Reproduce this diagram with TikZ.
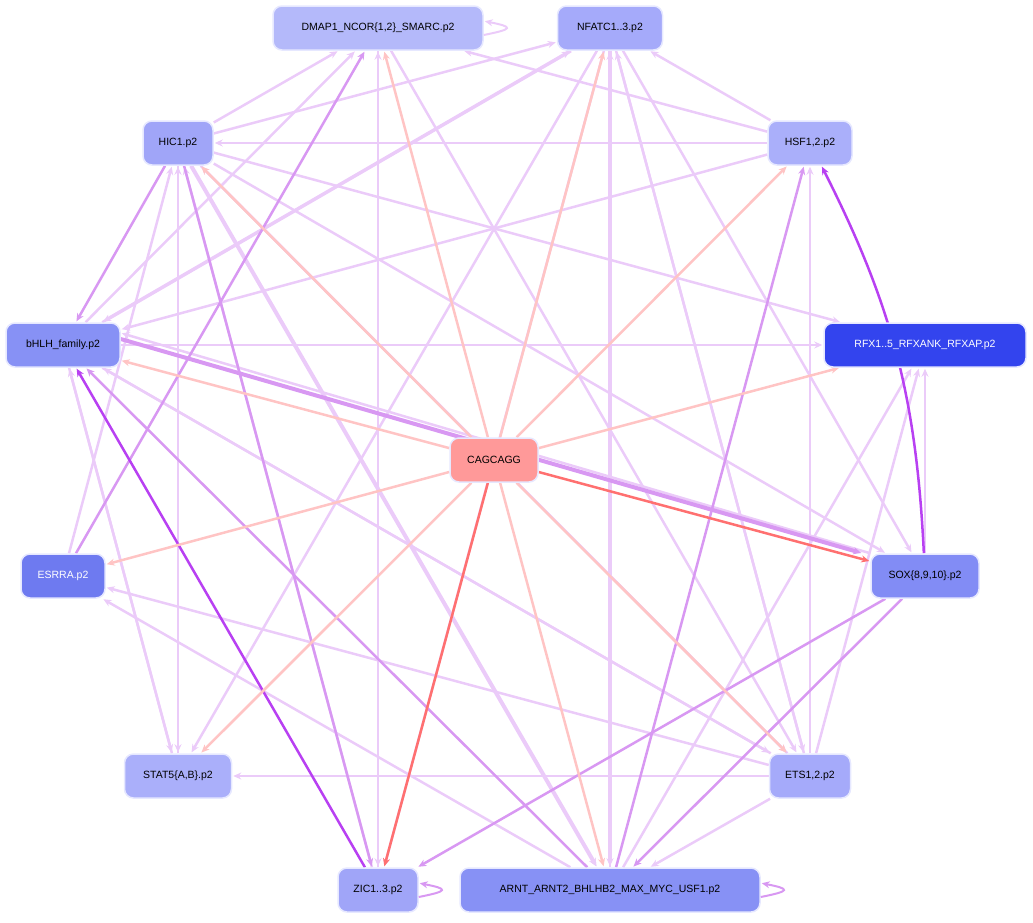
\documentclass[tikz,border=0pt]{standalone}
\usepackage{fontspec}
\setmainfont{Liberation Sans}
\usetikzlibrary{arrows.meta}
\pgfdeclarelayer{bg}
\pgfsetlayers{bg,main}
\begin{document}
\begin{tikzpicture}[x=1pt,y=-1pt,
 nd/.style={draw={rgb,255:red,230;green,232;blue,255},line width=1.5pt,rounded corners=9pt,minimum height=44pt,inner xsep=8pt,font=\fontsize{10.5}{12}\selectfont},
 e/.style={line width=2.5pt,-{Stealth[length=8pt,width=7pt]},shorten >=1pt},
 lp/.style={e,draw=lpc},
 mp/.style={e,draw=mpc},
 sp/.style={e,draw=spc},
 sa/.style={e,draw=sac},
 rd/.style={e,draw=rdc}]
\definecolor{lpc}{HTML}{EBCBF9}
\definecolor{mpc}{HTML}{D898F2}
\definecolor{spc}{HTML}{B840F2}
\definecolor{sac}{HTML}{FFC4C4}
\definecolor{rdc}{HTML}{FF7070}
\useasboundingbox (0,0) rectangle (1033,922);
\node[nd,fill={rgb,255:red,180;green,185;blue,250},minimum width=210pt] (dm) at (378,28) {DMAP1\_NCOR\{1,2\}\_SMARC.p2};
\node[nd,fill={rgb,255:red,165;green,170;blue,250},minimum width=105pt] (nf) at (610,28) {NFATC1..3.p2};
\node[nd,fill={rgb,255:red,160;green,165;blue,248},minimum width=70pt] (hi) at (178,143) {HIC1.p2};
\node[nd,fill={rgb,255:red,170;green,175;blue,250},minimum width=84pt] (hs) at (810,143) {HSF1,2.p2};
\node[nd,fill={rgb,255:red,135;green,145;blue,245},minimum width=114pt] (bh) at (63,345) {bHLH\_family.p2};
\node[nd,fill={rgb,255:red,51;green,68;blue,238},text=white,minimum width=202pt] (rf) at (925,345) {RFX1..5\_RFXANK\_RFXAP.p2};
\node[nd,fill={rgb,255:red,255;green,153;blue,153},minimum width=88pt] (ca) at (494,460) {CAGCAGG};
\node[nd,fill={rgb,255:red,110;green,122;blue,240},text=white,minimum width=84pt] (es) at (63,576) {ESRRA.p2};
\node[nd,fill={rgb,255:red,130;green,140;blue,245},minimum width=108pt] (so) at (925,576) {SOX\{8,9,10\}.p2};
\node[nd,fill={rgb,255:red,170;green,175;blue,250},minimum width=107pt] (st) at (178,776) {STAT5\{A,B\}.p2};
\node[nd,fill={rgb,255:red,165;green,170;blue,250},minimum width=81pt] (et) at (810,776) {ETS1,2.p2};
\node[nd,fill={rgb,255:red,160;green,165;blue,248},minimum width=80pt] (zi) at (378,890) {ZIC1..3.p2};
\node[nd,fill={rgb,255:red,135;green,145;blue,245},minimum width=300pt] (ar) at (610,890) {ARNT\_ARNT2\_BHLHB2\_MAX\_MYC\_USF1.p2};
\begin{pgfonlayer}{bg}
\foreach \a/\b in {hi/dm,hi/nf,hi/st,hi/ar,hi/et,hi/rf,hi/so,hs/hi,hs/dm,hs/nf,hs/bh,nf/zi,nf/et,nf/so,nf/st,dm/zi,dm/et,bh/rf,bh/et,bh/st,bh/dm,bh/nf,es/hi,et/hs,et/nf,et/es,et/st,et/ar,et/hi,et/rf,zi/dm,st/hi,ar/es,ar/nf,ar/rf,so/rf,st/bh,zi/hi,et/bh}
  \draw[lp] (\a) -- (\b);
\draw[lp] (so.north west) -- ([yshift=12]bh.east);
\draw[lp,line width=4pt] (nf) -- (ar);
\draw[lp,line width=4pt] (hi) -- (ar);
\draw[lp,line width=3.5pt] (nf) -- (bh);
\foreach \a/\b in {hi/bh,es/dm,so/zi,so/ar,ar/hs,ar/bh,hi/zi}
  \draw[mp] (\a) -- (\b);
\draw[mp,line width=4pt] ([yshift=6]bh.east) -- ([xshift=-8]so.north west);
\draw[sp] (zi) -- (bh);
\draw[sp] (so) to[bend right=12] (hs);
\foreach \b in {dm,nf,hi,hs,bh,rf,es,st,et,ar}
  \draw[sa] (ca) -- (\b);
\draw[rd] (ca) -- (so);
\draw[rd] (ca) -- (zi);
\end{pgfonlayer}
\coordinate (d1) at ([yshift=-7]dm.east); \coordinate (d2) at ([yshift=7]dm.east);
\coordinate (z1) at ([yshift=-7]zi.east); \coordinate (z2) at ([yshift=7]zi.east);
\coordinate (a1) at ([yshift=-7]ar.east); \coordinate (a2) at ([yshift=7]ar.east);
\draw[lp,line width=2pt] (d1) .. controls +(30,-6) and +(30,6) .. (d2);
\draw[mp,line width=2pt] (z1) .. controls +(30,-6) and +(30,6) .. (z2);
\draw[mp,line width=2pt] (a1) .. controls +(30,-6) and +(30,6) .. (a2);
\end{tikzpicture}
\end{document}
